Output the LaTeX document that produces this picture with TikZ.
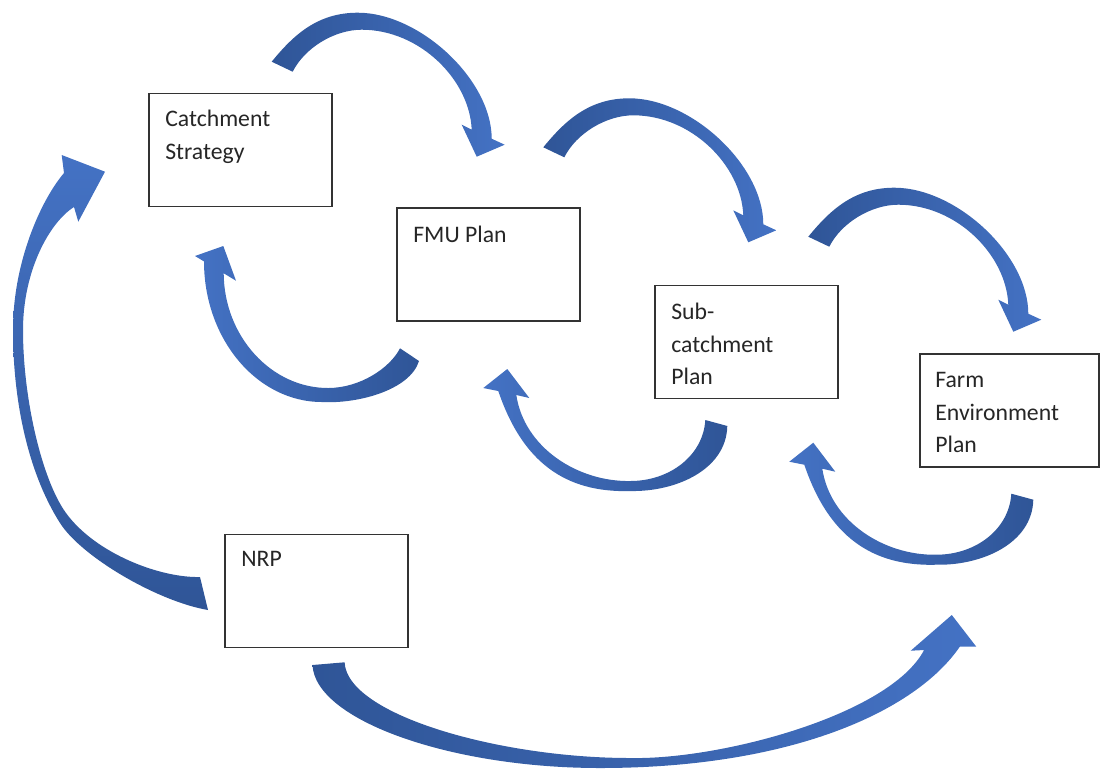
\documentclass[tikz,border=0pt]{standalone}
\usepackage{fontspec}
\setmainfont{Carlito}
\definecolor{arrdark}{RGB}{47,85,151}
\definecolor{arrlight}{RGB}{68,114,196}
\tikzset{
  box/.style={rectangle, draw=black!80, line width=0.8pt, minimum width=3.66cm, minimum height=2.26cm, inner sep=0pt},
  txt/.style={anchor=north west, inner sep=0pt, align=left, text=black!85, font=\fontsize{13.5}{18.5}\selectfont},
  darkleft/.style={draw=none, left color=arrdark, right color=arrlight},
  darkright/.style={draw=none, left color=arrlight, right color=arrdark},
  darkbottom/.style={draw=none, top color=arrlight, bottom color=arrdark},
  downarc/.pic={
    \path[darkleft] (-205,-95) .. controls (-183,-122) and (-159,-144) .. (-119,-144)
      .. controls (-57,-144) and (15,-77) .. (15,-18)
      -- (28,-12) -- (0,0) -- (-15,-32) -- (-5,-27)
      .. controls (-7,-77) and (-57,-127) .. (-115,-127)
      .. controls (-142,-127) and (-172,-109) .. (-184,-85)
      -- cycle;
  },
  uparc/.pic={
    \path[darkright] (220,57) .. controls (219,101) and (168,123) .. (123,122)
      .. controls (58,124) and (15,93) .. (-9,22)
      -- (-24,19) -- (0,0) -- (22,29) -- (9,26)
      .. controls (17,79) and (71,113) .. (123,112)
      .. controls (163,112) and (196,86) .. (198,51)
      -- cycle;
  }
}
\begin{document}
\begin{tikzpicture}[x=0.02cm, y=-0.02cm]
%\draw[help lines, step=100] (0,0) grid (1100,769);
\useasboundingbox (0,0) rectangle (1100,769);

\node[box](cs) at (240.5,150) {};
\node[box](fmu) at (488.5,264.5) {};
\node[box](sub) at (746.5,342) {};
\node[box, minimum width=3.58cm](fep) at (1009.5,410.5) {};
\node[box](nrp) at (316.5,591) {};

\node[txt](cst) at (165,110) {Catchment\\Strategy};
\node[txt](fmut) at (413,226) {FMU Plan};
\node[txt](subt) at (671,303) {Sub-\\catchment\\Plan};
\node[txt](fept) at (935,372) {Farm\\Environment\\Plan};
\node[txt](nrpt) at (241,551) {NRP};

\pic (a1) at (476.7,156.7) {downarc};
\pic (a2) at (748.3,242.3) {downarc};
\pic (a3) at (1013.3,331.7) {downarc};
\pic (a5) at (507.3,369) {uparc};
\pic (a6) at (813.3,442.7) {uparc};

% FMU back to catchment
\path[darkright] (419,361) .. controls (410,390) and (358,404) .. (322,402)
  .. controls (257,402) and (204,339) .. (204,261.4)
  -- (195,256) -- (223.3,246) -- (236,280.7) -- (223.7,273.3)
  .. controls (224,336) and (271,388) .. (328,388)
  .. controls (360,388) and (390,368) .. (400,348.3)
  -- cycle;
% NRP up to catchment
\path[darkbottom] (208,610) .. controls (158,601.5) and (81.6,557) .. (60,523)
  .. controls (27.6,472) and (13,400) .. (13,330)
  .. controls (13,262) and (41,200) .. (64,173)
  -- (61.7,155) -- (105,171.7) -- (78.3,221.7) -- (74,207)
  .. controls (50,222) and (23,270) .. (23,330)
  .. controls (23,400) and (42.4,480.6) .. (66,513)
  .. controls (95.5,553.5) and (160,578) .. (200,577)
  -- cycle;
% NRP across to farm
\path[darkleft] (312.5,665) .. controls (315,720) and (450,768) .. (600,768)
  .. controls (790,768) and (915,712) .. (959.8,646.7)
  -- (976.3,646.7) -- (951.8,615) -- (910.7,650.7) -- (924.1,650)
  .. controls (890,715) and (720,760) .. (630,758)
  .. controls (500,758) and (347,715) .. (344.6,662.3)
  -- cycle;
\end{tikzpicture}
\end{document}
